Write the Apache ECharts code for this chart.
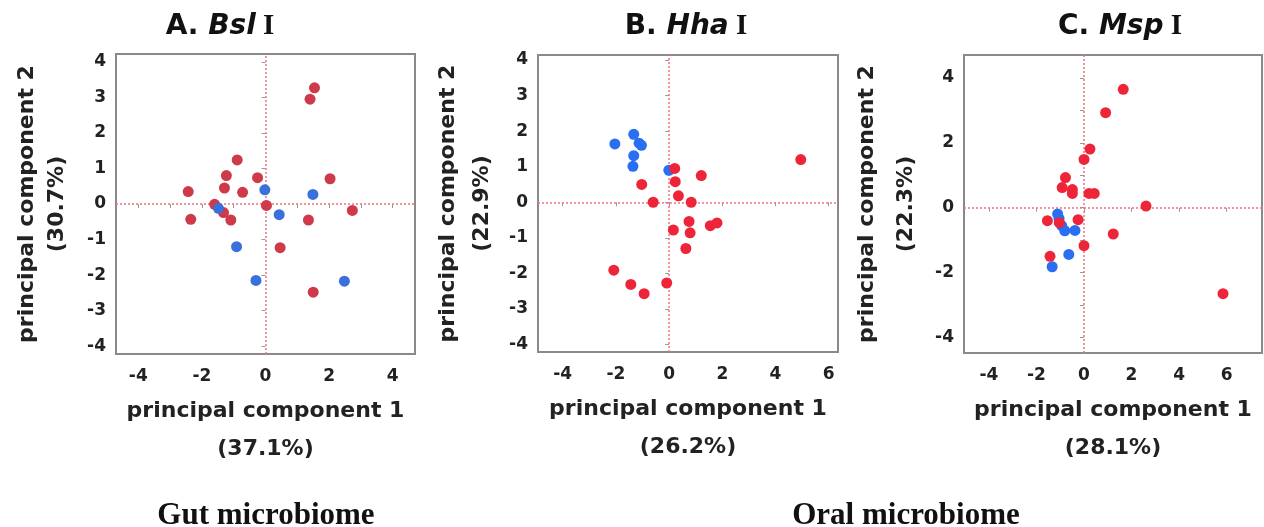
<!DOCTYPE html>
<html>
<head>
<meta charset="utf-8">
<script src="https://cdn.jsdelivr.net/npm/echarts@6/dist/echarts.min.js"></script>
<style>
  html, body { margin: 0; padding: 0; background: #fff; }
  #chart { width: 1264px; height: 527px; }
</style>
</head>
<body>
<div id="chart"></div>
<script>
// A. Bsl I (gut)
const bslRed = [[1.54, 3.27], [1.40, 2.95], [-0.89, 1.24], [-1.23, 0.80], [-0.25, 0.74], [2.03, 0.71],
  [-2.43, 0.35], [-1.29, 0.45], [-0.72, 0.33], [-1.60, -0.01], [-1.32, -0.24], [-1.09, -0.45],
  [-2.35, -0.43], [0.03, -0.04], [1.35, -0.45], [2.73, -0.18], [0.46, -1.23], [1.50, -2.48]]
const bslBlue = [[-0.02, 0.40], [1.49, 0.27], [-1.48, -0.12], [0.43, -0.30], [-0.91, -1.20], [-0.30, -2.15], [2.48, -2.17]]
// B. Hha I (oral)
const hhaBlue = [[-1.33, 1.91], [-2.04, 1.64], [-1.13, 1.66], [-1.04, 1.60], [-1.33, 1.31], [-1.36, 1.01], [-0.01, 0.90]]
const hhaRed = [[4.95, 1.20], [0.21, 0.95], [1.21, 0.75], [-1.03, 0.50], [0.23, 0.58], [0.35, 0.18], [-0.60, 0.00],
  [0.83, 0.00], [0.75, -0.54], [1.55, -0.66], [1.80, -0.58], [0.16, -0.78], [0.79, -0.86], [0.63, -1.30],
  [-2.08, -1.91], [-1.44, -2.31], [-0.94, -2.57], [-0.09, -2.27]]
// C. Msp I (oral)
const mspBlue = [[-1.11, -0.19], [-1.05, -0.33], [-0.94, -0.55], [-0.81, -0.71], [-0.38, -0.70], [-0.64, -1.44], [-1.34, -1.82]]
const mspRed = [[1.65, 3.65], [0.91, 2.93], [0.25, 1.81], [0.00, 1.49], [-0.78, 0.93], [-0.92, 0.62], [-0.49, 0.56],
  [-0.49, 0.44], [0.21, 0.44], [0.43, 0.44], [2.61, 0.05], [-1.54, -0.40], [-1.04, -0.46], [-0.25, -0.37],
  [1.23, -0.81], [0.00, -1.17], [-1.43, -1.50], [5.85, -2.65]]

// tick values
const ticksAx = [-4, -3, -2, -1, 0, 1, 2, 3, 4]
const labelsAx = [-4, -2, 0, 2, 4]
const ticksAy = [-4, -3, -2, -1, 0, 1, 2, 3, 4]
const ticksBx = [-4, -2, 0, 2, 4, 6]
const ticksBy = [-4, -3, -2, -1, 0, 1, 2, 3, 4]
const ticksCx = [-4, -2, 0, 2, 4, 6]
const ticksCy = [-4, -3, -2, -1, 0, 1, 2, 3, 4]
const labelsCy = [-4, -2, 0, 2, 4]

const pc1Names = ['principal component 1\n(37.1%)', 'principal component 1\n(26.2%)', 'principal component 1\n(28.1%)']
const pc2Names = ['principal component 2\n(30.7%)', 'principal component 2\n(22.9%)', 'principal component 2\n(22.3%)']

const chart = echarts.init(document.getElementById('chart'))

const labelFont = { fontFamily: 'DejaVu Sans', fontWeight: 'bold', fontSize: 17, color: '#222' }
const nameFont = { fontFamily: 'DejaVu Sans', fontWeight: 'bold', fontSize: 22, color: '#222' }

function xAxisOf(i, min, max, ticks, labels, nameLH) {
  return {
    type: 'value', gridIndex: i, min: min, max: max, position: 'bottom',
    splitLine: { show: false },
    axisLine: { show: false },
    axisTick: { show: true, length: 4, lineStyle: { color: '#999' }, customValues: ticks },
    axisLabel: Object.assign({ margin: 14, customValues: labels }, labelFont),
    name: pc1Names[i], nameLocation: 'middle', nameGap: 38,
    nameTextStyle: Object.assign({ lineHeight: nameLH }, nameFont)
  }
}
function yAxisOf(i, min, max, ticks, labels, nameLH, gap) {
  return {
    type: 'value', gridIndex: i, min: min, max: max, position: 'left',
    splitLine: { show: false },
    axisLine: { show: false },
    axisTick: { show: true, length: 4, lineStyle: { color: '#999' }, customValues: ticks },
    axisLabel: Object.assign({ margin: 10, customValues: labels }, labelFont),
    name: pc2Names[i], nameLocation: 'middle', nameRotate: 90, nameGap: gap,
    nameTextStyle: Object.assign({ lineHeight: nameLH }, nameFont)
  }
}

// dotted zero lines, kept under the dots
const zeroLines = {
  silent: true, symbol: 'none', label: { show: false }, z: 1,
  lineStyle: { type: [2, 2], color: '#f2707f', width: 1.5 },
  data: [{ xAxis: 0 }, { yAxis: 0 }]
}

function dots(i, data, color, withLines) {
  const s = {
    type: 'scatter', xAxisIndex: i, yAxisIndex: i, data: data, z: 3,
    symbolSize: 11, itemStyle: { color: color, opacity: 1 }
  }
  if (withLines) s.markLine = zeroLines
  return s
}

const gridStyle = { show: true, borderColor: '#8a8a8a', borderWidth: 2, backgroundColor: '#fff', outerBoundsMode: 'none', containLabel: false }

const titleRich = {
  a: { font: 'bold 28px "DejaVu Sans"', fill: '#111' },
  b: { font: 'italic bold 28px "DejaVu Sans"', fill: '#111' },
  c: { font: 'bold 29px "Liberation Serif"', fill: '#111' }
}

chart.setOption({
  animation: false,
  grid: [
    Object.assign({ left: 116, top: 54, width: 299, height: 300 }, gridStyle),
    Object.assign({ left: 538, top: 55, width: 300, height: 297 }, gridStyle),
    Object.assign({ left: 964, top: 55, width: 298, height: 298 }, gridStyle)
  ],
  xAxis: [
    xAxisOf(0, -4.7, 4.7, ticksAx, labelsAx, 38),
    xAxisOf(1, -4.93, 6.35, ticksBx, ticksBx, 38),
    xAxisOf(2, -5.05, 7.49, ticksCx, ticksCx, 38)
  ],
  yAxis: [
    yAxisOf(0, -4.22, 4.22, ticksAy, ticksAy, 30, 44),
    yAxisOf(1, -4.21, 4.14, ticksBy, ticksBy, 34, 39),
    yAxisOf(2, -4.48, 4.71, ticksCy, labelsCy, 39, 38)
  ],
  series: [
    dots(0, bslRed, '#cf3a4b', true),
    dots(0, bslBlue, '#3a70dc', false),
    dots(1, hhaBlue, '#2a6ef2', true),
    dots(1, hhaRed, '#ee2438', false),
    dots(2, mspBlue, '#2a6ef2', true),
    dots(2, mspRed, '#ee2438', false)
  ],
  graphic: [
    { type: 'text', x: 220, y: 27, style: { text: '{a|A. }{b|Bsl}{c| I}', align: 'center', verticalAlign: 'middle', rich: titleRich } },
    { type: 'text', x: 686, y: 27, style: { text: '{a|B. }{b|Hha}{c| I}', align: 'center', verticalAlign: 'middle', rich: titleRich } },
    { type: 'text', x: 1120, y: 27, style: { text: '{a|C. }{b|Msp}{c| I}', align: 'center', verticalAlign: 'middle', rich: titleRich } },
    { type: 'text', x: 266, y: 516, style: { text: 'Gut microbiome', align: 'center', verticalAlign: 'middle', font: 'bold 31px "Liberation Serif"', fill: '#111' } },
    { type: 'text', x: 906, y: 516, style: { text: 'Oral microbiome', align: 'center', verticalAlign: 'middle', font: 'bold 31px "Liberation Serif"', fill: '#111' } }
  ]
})
</script>
</body>
</html>
